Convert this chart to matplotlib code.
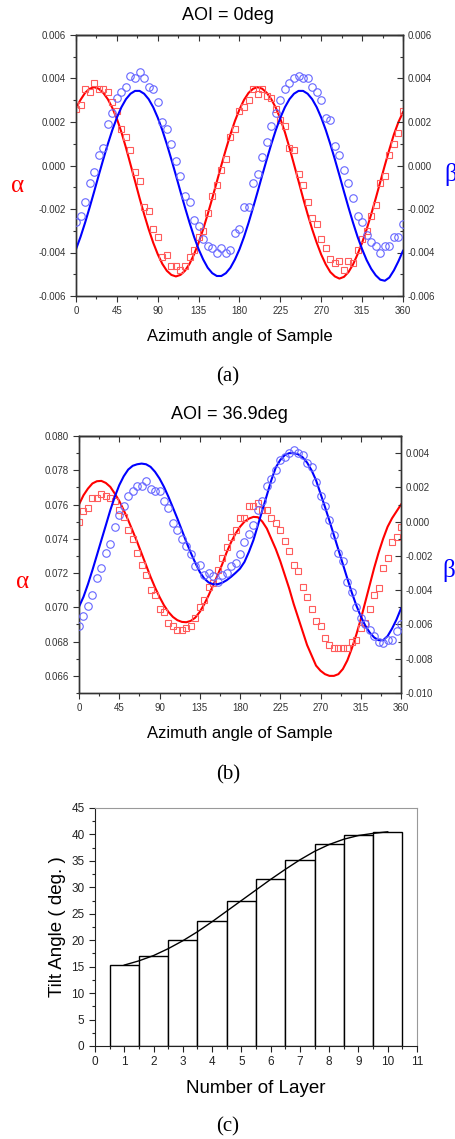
import matplotlib.pyplot as plt
from matplotlib.ticker import MultipleLocator, FormatStrFormatter

plt.rcParams['font.family'] = ['Liberation Sans', 'DejaVu Sans']
plt.rcParams['axes.unicode_minus'] = False

## azimuth angle of sample, 5 deg steps
azimuth = list(range(0, 361, 5))

## AOI = 0deg : fitted curves and measured points
a0_alpha_fit = [0.00265, 0.00302, 0.00334, 0.00353, 0.00360, 0.00353, 0.00334, 0.00305, 0.00265, 0.00215,
                0.00153, 0.00082, 0.00005, -0.00072, -0.00150, -0.00224, -0.00293, -0.00355, -0.00408, -0.00452,
                -0.00484, -0.00503, -0.00510, -0.00503, -0.00484, -0.00452, -0.00408, -0.00355, -0.00293, -0.00224,
                -0.00151, -0.00075, 0.00001, 0.00074, 0.00143, 0.00205, 0.00258, 0.00302, 0.00334, 0.00353,
                0.00360, 0.00353, 0.00334, 0.00305, 0.00265, 0.00215, 0.00153, 0.00082, 0.00005, -0.00072,
                -0.00150, -0.00224, -0.00293, -0.00355, -0.00410, -0.00455, -0.00490, -0.00510, -0.00520, -0.00512,
                -0.00490, -0.00455, -0.00408, -0.00355, -0.00293, -0.00224, -0.00151, -0.00075, 0.00001, 0.00074,
                0.00143, 0.00200, 0.00245]
a0_beta_fit = [-0.00385, -0.00328, -0.00263, -0.00193, -0.00120, -0.00045, 0.00028, 0.00098, 0.00163, 0.00220,
               0.00268, 0.00305, 0.00330, 0.00343, 0.00343, 0.00330, 0.00305, 0.00268, 0.00220, 0.00163,
               0.00098, 0.00028, -0.00045, -0.00120, -0.00193, -0.00263, -0.00328, -0.00385, -0.00432, -0.00470,
               -0.00495, -0.00508, -0.00508, -0.00495, -0.00470, -0.00432, -0.00385, -0.00328, -0.00263, -0.00193,
               -0.00120, -0.00045, 0.00028, 0.00098, 0.00163, 0.00220, 0.00268, 0.00305, 0.00330, 0.00343,
               0.00343, 0.00330, 0.00305, 0.00268, 0.00220, 0.00163, 0.00098, 0.00028, -0.00045, -0.00120,
               -0.00193, -0.00263, -0.00328, -0.00385, -0.00435, -0.00475, -0.00505, -0.00525, -0.00530, -0.00515,
               -0.00482, -0.00440, -0.00392]
a0_alpha_meas = [0.0026, 0.0028, 0.0035, 0.0034, 0.0038, 0.0035, 0.0035, 0.0034, 0.0029, 0.0025,
                 0.0017, 0.0013, 0.0007, -0.0003, -0.0007, -0.0019, -0.0021, -0.0029, -0.0033, -0.0042,
                 -0.0041, -0.0046, -0.0046, -0.0048, -0.0046, -0.0042, -0.0039, -0.0033, -0.0030, -0.0022,
                 -0.0014, -0.0009, -0.0002, 0.0003, 0.0013, 0.0017, 0.0025, 0.0027, 0.0030, 0.0035,
                 0.0033, 0.0035, 0.0032, 0.0031, 0.0026, 0.0021, 0.0018, 0.0008, 0.0007, -0.0004,
                 -0.0009, -0.0017, -0.0024, -0.0027, -0.0034, -0.0038, -0.0043, -0.0045, -0.0044, -0.0048,
                 -0.0044, -0.0045, -0.0039, -0.0034, -0.0030, -0.0023, -0.0018, -0.0008, -0.0005, 0.0005,
                 0.0010, 0.0015, 0.0025]
a0_beta_meas = [-0.0026, -0.0023, -0.0017, -0.0008, -0.0003, 0.0005, 0.0008, 0.0019, 0.0024, 0.0031,
                0.0034, 0.0036, 0.0041, 0.0040, 0.0043, 0.0040, 0.0036, 0.0035, 0.0029, 0.0020,
                0.0017, 0.0010, 0.0002, -0.0005, -0.0014, -0.0017, -0.0025, -0.0028, -0.0034, -0.0037,
                -0.0038, -0.0040, -0.0038, -0.0040, -0.0039, -0.0031, -0.0029, -0.0019, -0.0019, -0.0008,
                -0.0004, 0.0004, 0.0011, 0.0018, 0.0024, 0.0030, 0.0035, 0.0038, 0.0040, 0.0041,
                0.0040, 0.0040, 0.0036, 0.0034, 0.0030, 0.0022, 0.0021, 0.0009, 0.0005, -0.0002,
                -0.0008, -0.0015, -0.0023, -0.0026, -0.0032, -0.0035, -0.0037, -0.0040, -0.0037, -0.0037,
                -0.0033, -0.0033, -0.0027]

## AOI = 36.9deg : fitted curves and measured points
a37_alpha_fit = [0.07600, 0.07654, 0.07693, 0.07723, 0.07736, 0.07738, 0.07726, 0.07703, 0.07664, 0.07621,
                 0.07567, 0.07509, 0.07446, 0.07382, 0.07314, 0.07246, 0.07178, 0.07116, 0.07061, 0.07012,
                 0.06973, 0.06944, 0.06925, 0.06915, 0.06913, 0.06921, 0.06940, 0.06973, 0.07018, 0.07071,
                 0.07129, 0.07188, 0.07250, 0.07320, 0.07380, 0.07430, 0.07470, 0.07500, 0.07518, 0.07528,
                 0.07526, 0.07500, 0.07460, 0.07400, 0.07340, 0.07270, 0.07190, 0.07110, 0.07020, 0.06940,
                 0.06860, 0.06780, 0.06720, 0.06660, 0.06630, 0.06610, 0.06600, 0.06600, 0.06610, 0.06640,
                 0.06690, 0.06760, 0.06840, 0.06930, 0.07030, 0.07130, 0.07230, 0.07320, 0.07400, 0.07470,
                 0.07520, 0.07560, 0.07600]
a37_beta_fit = [-0.00497, -0.00439, -0.00365, -0.00283, -0.00196, -0.00108, -0.00021, 0.00067, 0.00145, 0.00213,
                0.00265, 0.00304, 0.00326, 0.00335, 0.00339, 0.00335, 0.00320, 0.00291, 0.00252, 0.00203,
                0.00145, 0.00082, 0.00018, -0.00050, -0.00118, -0.00182, -0.00240, -0.00293, -0.00332, -0.00355,
                -0.00365, -0.00365, -0.00357, -0.00342, -0.00322, -0.00299, -0.00274, -0.00235, -0.00176, -0.00108,
                -0.00021, 0.00067, 0.00154, 0.00242, 0.00316, 0.00360, 0.00388, 0.00400, 0.00400, 0.00393,
                0.00376, 0.00345, 0.00300, 0.00242, 0.00164, 0.00086, 0.00005, -0.00079, -0.00163, -0.00248,
                -0.00332, -0.00414, -0.00488, -0.00552, -0.00606, -0.00647, -0.00676, -0.00692, -0.00692, -0.00668,
                -0.00624, -0.00571, -0.00507]
a37_alpha_meas = [0.0750, 0.0756, 0.0758, 0.0764, 0.0764, 0.0766, 0.0765, 0.0764, 0.0762, 0.0757,
                  0.0753, 0.0745, 0.0740, 0.0732, 0.0725, 0.0719, 0.0710, 0.0707, 0.0699, 0.0697,
                  0.0691, 0.0689, 0.0687, 0.0687, 0.0688, 0.0689, 0.0694, 0.0700, 0.0704, 0.0712,
                  0.0714, 0.0722, 0.0729, 0.0735, 0.0741, 0.0745, 0.0752, 0.0752, 0.0759, 0.0759,
                  0.0761, 0.0757, 0.0757, 0.0752, 0.0749, 0.0745, 0.0739, 0.0733, 0.0725, 0.0721,
                  0.0712, 0.0706, 0.0699, 0.0692, 0.0689, 0.0682, 0.0678, 0.0676, 0.0676, 0.0676,
                  0.0676, 0.0680, 0.0681, 0.0688, 0.0691, 0.0699, 0.0707, 0.0711, 0.0723, 0.0729,
                  0.0738, 0.0741, 0.0747]
a37_beta_meas = [-0.0061, -0.0055, -0.0049, -0.0043, -0.0033, -0.0027, -0.0018, -0.0013, -0.0003, 0.0004,
                 0.0009, 0.0015, 0.0018, 0.0021, 0.0021, 0.0024, 0.0019, 0.0018, 0.0018, 0.0012,
                 0.0008, -0.0001, -0.0005, -0.0010, -0.0014, -0.0019, -0.0026, -0.0025, -0.0031, -0.0030,
                 -0.0032, -0.0035, -0.0031, -0.0030, -0.0026, -0.0024, -0.0019, -0.0012, -0.0007, -0.0002,
                 0.0007, 0.0012, 0.0021, 0.0025, 0.0030, 0.0036, 0.0038, 0.0040, 0.0042, 0.0040,
                 0.0039, 0.0034, 0.0032, 0.0023, 0.0015, 0.0009, 0.0001, -0.0008, -0.0018, -0.0023,
                 -0.0035, -0.0041, -0.0050, -0.0056, -0.0060, -0.0063, -0.0067, -0.0070, -0.0071, -0.0069,
                 -0.0069, -0.0064, -0.0060]

## tilt angle per layer
layers = [1, 2, 3, 4, 5, 6, 7, 8, 9, 10]
tilt = [15.4, 17.1, 20.0, 23.6, 27.5, 31.6, 35.2, 38.1, 39.9, 40.5]
tilt_fit_x = [1, 1.5, 2, 2.5, 3, 3.5, 4, 4.5, 5, 5.5, 6, 6.5, 7, 7.5, 8, 8.5, 9, 9.5, 10]
tilt_fit_y = [15.3, 16.1, 17.1, 18.4, 19.9, 21.6, 23.5, 25.5, 27.5, 29.5,
              31.5, 33.4, 35.2, 36.8, 38.1, 39.1, 39.8, 40.2, 40.5]

W, H = 456, 1139
AX_COL = '#333333'


def box(l, t, r, b):
    return [l / W, 1 - b / H, (r - l) / W, (b - t) / H]


def ftext(x, y, s, **kw):
    fig.text(x / W, 1 - y / H, s, ha='center', va='center', **kw)


def style_scan(ax, ax2, lim_l, step_l, lim_r, tick_r):
    ax.set_xlim(0, 360)
    ax.set_xticks(range(0, 361, 45))
    ax.xaxis.set_minor_locator(MultipleLocator(22.5))
    ax.set_ylim(*lim_l)
    ax.yaxis.set_major_locator(MultipleLocator(step_l))
    ax.yaxis.set_minor_locator(MultipleLocator(step_l / 2))
    ax.yaxis.set_major_formatter(FormatStrFormatter('%.3f'))
    ax.tick_params(which='both', direction='out', colors=AX_COL, labelsize=7,
                   left=True, bottom=True, top=False, right=False)
    ax.tick_params(which='major', length=4, width=0.8)
    ax.tick_params(which='minor', length=2.5, width=0.8)
    ax2.set_ylim(*lim_r)
    ax2.set_yticks(tick_r)
    ax2.yaxis.set_minor_locator(MultipleLocator(0.001))
    ax2.yaxis.set_major_formatter(FormatStrFormatter('%.3f'))
    ax2.tick_params(which='both', direction='in', colors=AX_COL, labelsize=7)
    ax2.tick_params(which='major', length=4, width=0.8)
    ax2.tick_params(which='minor', length=2.5, width=0.8)
    top = ax.secondary_xaxis('top')
    top.set_xticks(range(0, 361, 45))
    top.xaxis.set_minor_locator(MultipleLocator(22.5))
    top.tick_params(which='both', direction='in', labeltop=False, colors=AX_COL, width=0.8)
    top.tick_params(which='major', length=4)
    top.tick_params(which='minor', length=2.5)
    for a in (ax, ax2, top):
        for sp in a.spines.values():
            sp.set_color(AX_COL)
            sp.set_linewidth(1.0)
    ax.set_xlabel('Azimuth angle of Sample', fontsize=12, labelpad=9)


def draw_scan(ax, ax2, alpha_fit, alpha_meas, beta_fit, beta_meas):
    ax.plot(azimuth, alpha_fit, color='#ff0000', lw=1.5, zorder=2)
    ax.plot(azimuth, alpha_meas, ls='none', marker='s', ms=5, mfc='none',
            mec='#ff5c5c', mew=0.8, zorder=3)
    ax2.plot(azimuth, beta_fit, color='#0000ff', lw=1.5, zorder=2)
    ax2.plot(azimuth, beta_meas, ls='none', marker='o', ms=5.4, mfc='none',
             mec='#6666ff', mew=0.8, zorder=3)


fig = plt.figure(figsize=(W / 100, H / 100), dpi=100)

## (a) AOI = 0deg
ax_a = fig.add_axes(box(76, 35, 403, 296))
ax_a2 = ax_a.twinx()
draw_scan(ax_a, ax_a2, a0_alpha_fit, a0_alpha_meas, a0_beta_fit, a0_beta_meas)
style_scan(ax_a, ax_a2, (-0.006, 0.006), 0.002, (-0.006, 0.006),
           [-0.006, -0.004, -0.002, 0.0, 0.002, 0.004, 0.006])
ftext(228, 15, 'AOI = 0deg', fontsize=13)
ftext(18, 186, 'α', fontsize=18, color='#ff0000', family='Liberation Serif')
ftext(451, 174, 'β', fontsize=18, color='#0000ff', family='Liberation Serif')
ftext(228, 377, '(a)', fontsize=15, family='Liberation Serif')

## (b) AOI = 36.9deg
ax_b = fig.add_axes(box(79, 436, 401, 693))
ax_b2 = ax_b.twinx()
draw_scan(ax_b, ax_b2, a37_alpha_fit, a37_alpha_meas, a37_beta_fit, a37_beta_meas)
style_scan(ax_b, ax_b2, (0.065, 0.080), 0.002, (-0.010, 0.005),
           [-0.010, -0.008, -0.006, -0.004, -0.002, 0.0, 0.002, 0.004])
ftext(229, 415, 'AOI = 36.9deg', fontsize=13)
ftext(23, 582, 'α', fontsize=18, color='#ff0000', family='Liberation Serif')
ftext(449, 571, 'β', fontsize=18, color='#0000ff', family='Liberation Serif')
ftext(228, 775, '(b)', fontsize=15, family='Liberation Serif')

## (c) tilt angle vs layer
ax_c = fig.add_axes(box(95, 808, 417, 1046))
ax_c.bar(layers, tilt, width=1.0, color='white', edgecolor='black', linewidth=1.0, zorder=2)
ax_c.plot(tilt_fit_x, tilt_fit_y, color='black', lw=1.0, zorder=3)
ax_c.set_xlim(0, 11)
ax_c.set_ylim(0, 45)
ax_c.set_xticks(range(0, 12))
ax_c.xaxis.set_minor_locator(MultipleLocator(0.5))
ax_c.yaxis.set_major_locator(MultipleLocator(5))
ax_c.yaxis.set_minor_locator(MultipleLocator(2.5))
ax_c.tick_params(which='both', direction='out', colors='#222222', labelsize=8.5, width=0.8)
ax_c.tick_params(which='major', length=4)
ax_c.tick_params(which='minor', length=2.5)
for side in ('top', 'right'):
    ax_c.spines[side].set_color('#999999')
for side in ('left', 'bottom'):
    ax_c.spines[side].set_color('#222222')
ax_c.set_xlabel('Number of Layer', fontsize=13.5, labelpad=8)
ax_c.set_ylabel('Tilt Angle ( deg. )', fontsize=13.5, labelpad=4)
ftext(228, 1127, '(c)', fontsize=15, family='Liberation Serif')

fig.savefig('out.png', dpi=100)
